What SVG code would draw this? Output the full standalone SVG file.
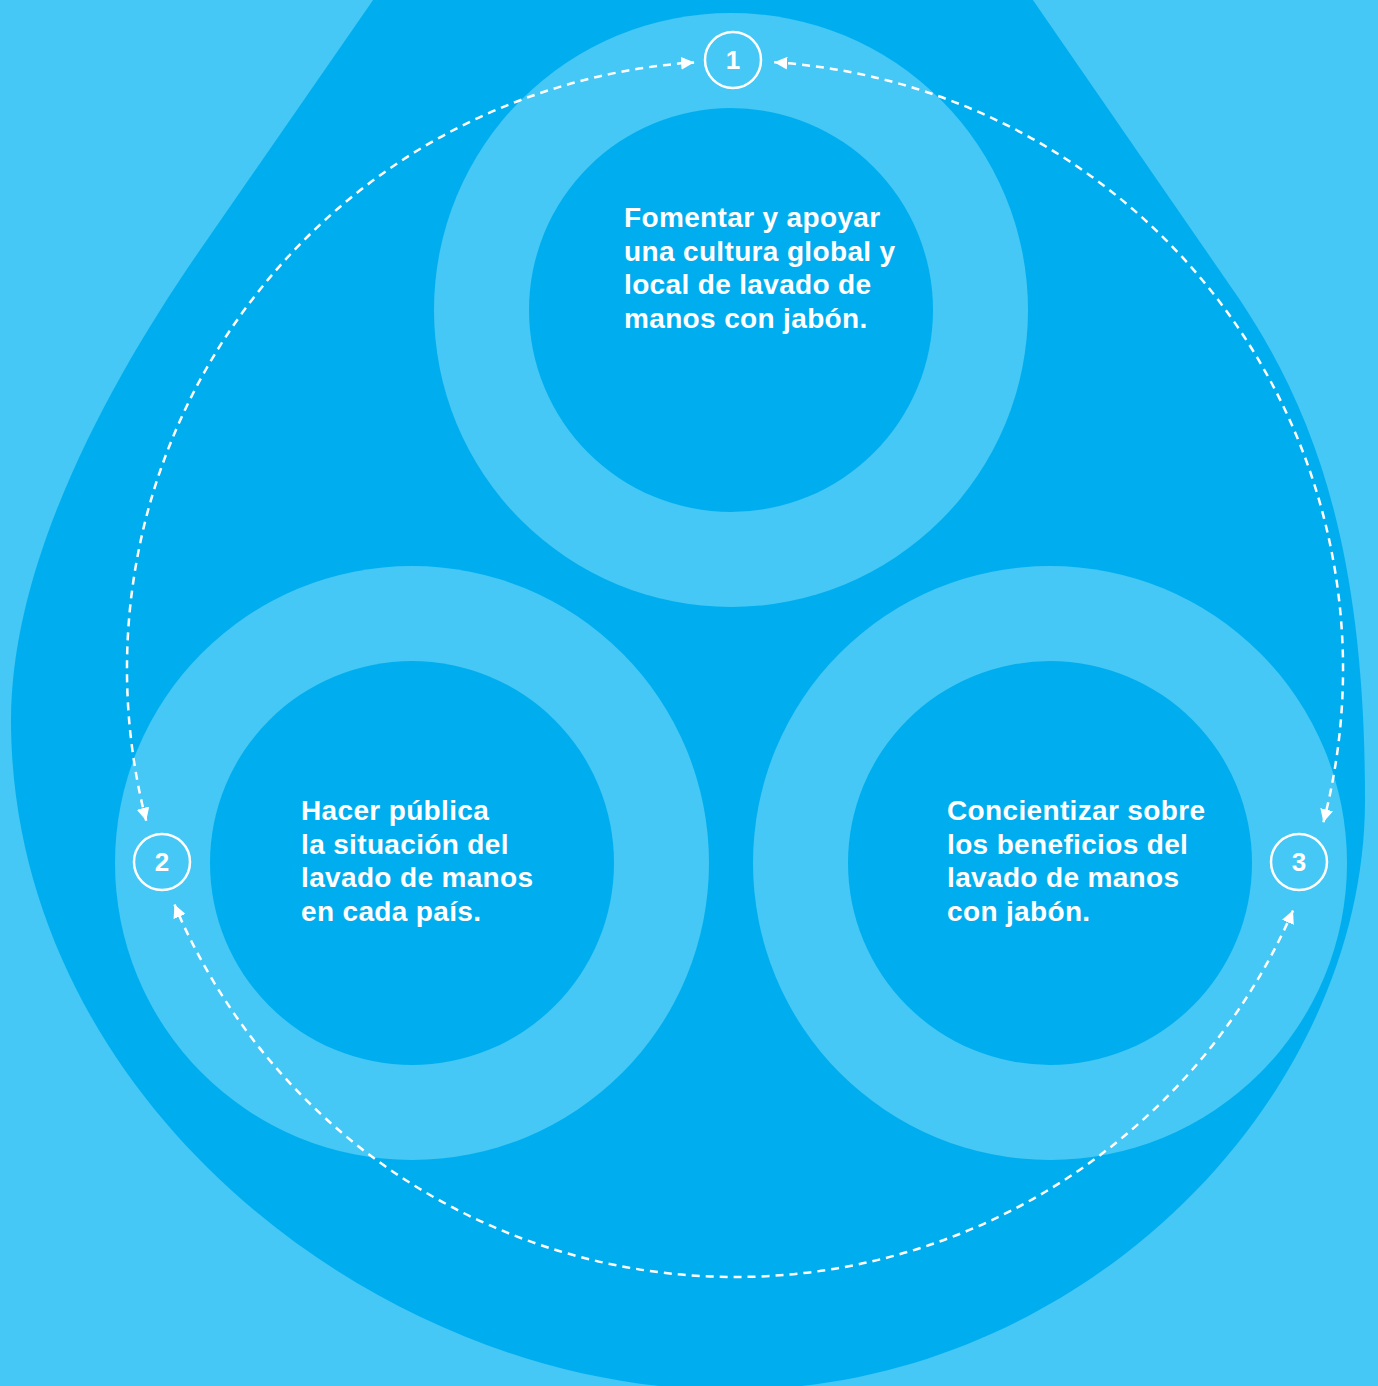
<svg xmlns="http://www.w3.org/2000/svg" width="1378" height="1386" viewBox="0 0 1378 1386">
  <defs>
    <style>
      .bg { fill: #45C8F5; }
      .drop { fill: #00AEEF; }
      .ring { fill: #45C8F5; }
      .core { fill: #00AEEF; }
      .badge { fill: none; stroke: #FFFFFF; stroke-width: 2.5; }
      .num { font-family: "Liberation Sans", Arial, sans-serif; font-weight: bold; font-size: 26px; fill: #FFFFFF; text-anchor: middle; }
      .label { font-family: "Liberation Sans", Arial, sans-serif; font-weight: bold; font-size: 28px; letter-spacing: 0.35px; fill: #FFFFFF; }
      .flow { fill: none; stroke: #FFFFFF; stroke-width: 2.5; stroke-dasharray: 8 6; marker-start: url(#arrow); marker-end: url(#arrow); }
    </style>
    <marker id="arrow" viewBox="0 0 10 10" refX="10" refY="5" markerWidth="13" markerHeight="13" markerUnits="userSpaceOnUse" orient="auto-start-reverse">
      <path d="M0,0 L10,5 L0,10 z" fill="#FFFFFF" stroke="none"/>
    </marker>
  </defs>

  <rect class="bg" x="0" y="0" width="1378" height="1386"/>

  <path class="drop" d="M380,-10 L200,250 C110,380 11,560 11,720 C11,1100 380,1390 731,1390 C1080,1390 1365,1100 1365,800 C1365,560 1320,420 1240,300 L1026,-10 Z"/>

  <g id="node1">
    <circle class="ring" cx="731" cy="310" r="297"/>
    <circle class="core" cx="731" cy="310" r="202"/>
    <text class="label">
      <tspan x="624" y="227">Fomentar y apoyar</tspan>
      <tspan x="624" y="261">una cultura global y</tspan>
      <tspan x="624" y="294">local de lavado de</tspan>
      <tspan x="624" y="328">manos con jabón.</tspan>
    </text>
  </g>

  <g id="node2">
    <circle class="ring" cx="412" cy="863" r="297"/>
    <circle class="core" cx="412" cy="863" r="202"/>
    <text class="label">
      <tspan x="301" y="820">Hacer pública</tspan>
      <tspan x="301" y="854">la situación del</tspan>
      <tspan x="301" y="887">lavado de manos</tspan>
      <tspan x="301" y="921">en cada país.</tspan>
    </text>
  </g>

  <g id="node3">
    <circle class="ring" cx="1050" cy="863" r="297"/>
    <circle class="core" cx="1050" cy="863" r="202"/>
    <text class="label">
      <tspan x="947" y="820">Concientizar sobre</tspan>
      <tspan x="947" y="854">los beneficios del</tspan>
      <tspan x="947" y="887">lavado de manos</tspan>
      <tspan x="947" y="921">con jabón.</tspan>
    </text>
  </g>

  <g id="connectors">
    <path class="flow" d="M146.2,820.7 A608,608 0 0 1 694.1,62.4"/>
    <path class="flow" d="M774.2,62.3 A608,608 0 0 1 1323.4,822.3"/>
    <path class="flow" d="M1293,910.4 A608,608 0 0 1 174.5,904.6"/>
  </g>

  <g id="badge1">
    <circle class="badge" cx="733" cy="60" r="28"/>
    <text class="num" x="733" y="69">1</text>
  </g>
  <g id="badge2">
    <circle class="badge" cx="162" cy="862" r="28"/>
    <text class="num" x="162" y="871">2</text>
  </g>
  <g id="badge3">
    <circle class="badge" cx="1299" cy="862" r="28"/>
    <text class="num" x="1299" y="871">3</text>
  </g>
</svg>
